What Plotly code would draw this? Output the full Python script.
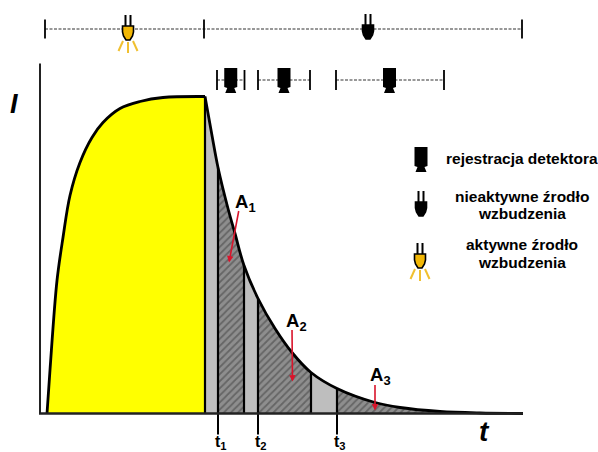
import plotly.graph_objects as go

# intensity curve: time, intensity
rise_t = [7, 10, 17, 23, 30, 40, 52, 63, 80, 100, 123, 165]
rise_i = [0, 43.5, 133, 176, 218, 251, 276, 291, 305, 312, 316, 317]
decay_t = [165, 172, 178, 188, 195, 204, 218, 235, 252, 271, 297, 335, 360, 400, 440, 483]
decay_i = [317, 278, 246, 205, 180, 148, 115, 85, 61, 41, 25, 11, 6, 2, 0.5, 0]

delay_regions = [(165, 178), (204, 218), (271, 297)]
gate_regions = [(178, 204), (218, 271), (297, 483)]
gate_edges = [165, 178, 204, 218, 271, 297]
t_labels = ["t<sub>1</sub>", "t<sub>2</sub>", "t<sub>3</sub>"]
t_label_pos = [178, 218, 297]

source_span = [5, 164, 482]
gate_windows = [(177, 204.5), (218, 270), (296, 404)]
active_source_t, inactive_source_t = 88, 328

area_names = ["A<sub>1</sub>", "A<sub>2</sub>", "A<sub>3</sub>"]
area_label_pos = [(193, 211), (244, 92), (328, 38)]
area_arrow_tail = [(199, 204), (252, 85), (335, 30)]
area_arrow_head = [(189, 151), (252.5, 32), (335, 3)]

legend_lines = ["rejestracja detektora", "nieaktywne źrodło", "wzbudzenia", "aktywne źrodło", "wzbudzenia"]
legend_y = [255.5, 217.5, 200.5, 169.5, 151.5]

FONT = "Liberation Sans"
TOP_Y, GATE_Y = 384.5, 333.5
fig = go.Figure()


def line(xs, ys, color="black", width=2.0, dash=None, shape="linear"):
    fig.add_trace(go.Scatter(x=xs, y=ys, mode="lines", hoverinfo="skip", showlegend=False,
                             line=dict(color=color, width=width, dash=dash, shape=shape)))


def at_curve(t):
    return decay_i[decay_t.index(t)]


def region(a, b):
    return [(t, i) for t, i in zip(decay_t, decay_i) if a <= t <= b]


# yellow excitation area
fig.add_trace(go.Scatter(x=rise_t + [165, 7], y=rise_i + [0, 0], mode="lines", fill="toself",
                         fillcolor="#FFFF00", line=dict(width=0), hoverinfo="skip", showlegend=False))
# grey delay areas
for a, b in delay_regions:
    p = region(a, b)
    fig.add_trace(go.Scatter(x=[q[0] for q in p] + [b, a], y=[q[1] for q in p] + [0, 0], mode="lines",
                             fill="toself", fillcolor="#BEBEBE", line=dict(width=0),
                             hoverinfo="skip", showlegend=False))
# hatched gate areas
for a, b in gate_regions:
    p = region(a, b)
    fig.add_trace(go.Scatter(x=[q[0] for q in p] + [b, a], y=[q[1] for q in p] + [0, 0], mode="lines",
                             fill="toself", line=dict(width=0), fillcolor="#808080",
                             fillpattern=dict(shape="/", fgcolor="#3C3C3C", bgcolor="#8E8E8E", size=5, solidity=0.35),
                             hoverinfo="skip", showlegend=False))
# separators
for t in gate_edges:
    line([t, t], [0, at_curve(t)], width=2.2)
for t in t_label_pos:
    line([t, t], [-21, 0], width=2.0)
# curve and axes
line(rise_t, rise_i, width=2.8, shape="spline")
line(decay_t, decay_i, width=2.8, shape="spline")
line([0, 0], [0, 350], width=2.0, color="#222222")
line([-1, 483], [0, 0], width=2.4, color="#222222")

# timelines
line([source_span[0], source_span[2]], [TOP_Y, TOP_Y], width=1.2, dash="3px,1.5px", color="#333333")
for t in source_span:
    line([t, t], [TOP_Y - 9.5, TOP_Y + 9.5], width=1.8)
for a, b in gate_windows:
    line([a, b], [GATE_Y, GATE_Y], width=1.2, dash="3px,1.5px", color="#333333")
    for t in (a, b):
        line([t, t], [GATE_Y - 10, GATE_Y + 10], width=1.8)

shapes = []


def poly(cx, cy, pts, fill, outline=None, w=0):
    d = "M " + " L ".join(f"{cx + a},{cy - b}" for a, b in pts) + " Z"
    shapes.append(dict(type="path", path=d, xref="x", yref="y", fillcolor=fill, layer="above",
                       line=dict(color=outline or fill, width=w)))


def stroke(cx, cy, a, b, color, w):
    shapes.append(dict(type="line", x0=cx + a[0], y0=cy - a[1], x1=cx + b[0], y1=cy - b[1], xref="x", yref="y",
                       layer="above", line=dict(color=color, width=w)))


def detector(cx, cy):
    poly(cx, cy, [(-6.5, -12), (6.5, -12), (6.5, 7), (3.5, 8), (5.5, 13), (-5.5, 13), (-3.5, 8), (-6.5, 7)], "black")


BULB = [(-5.5, 0), (5.5, 0), (5.5, 6), (4.5, 10), (2, 14), (-2, 14), (-4.5, 10), (-5.5, 6)]


def bulb(cx, cy, active):
    stroke(cx, cy, (-2.5, -11), (-2.5, 0), "black", 2)
    stroke(cx, cy, (2.5, -11), (2.5, 0), "black", 2)
    poly(cx, cy, BULB, "#F2B705" if active else "black", "black", 1.6)
    if active:
        for a, b in [((0, 16), (0, 27)), ((-5, 15), (-9.5, 25)), ((5, 15), (9.5, 25))]:
            stroke(cx, cy, a, b, "#F0C030", 2)


bulb(active_source_t, 387.5, True)
bulb(inactive_source_t, 388.5, False)
for a, b in gate_windows:
    detector((a + b) / 2 - (0 if b - a < 100 else 0.5), 333.5)
detector(381, 254.5)
bulb(381, 211.5, False)
bulb(380, 159.5, True)

annotations = []


def text(x, y, s, size, anchor="center", italic=False):
    annotations.append(dict(x=x, y=y, text=f"<b><i>{s}</i></b>" if italic else f"<b>{s}</b>", showarrow=False,
                            xref="x", yref="y", xanchor=anchor, yanchor="middle",
                            font=dict(family=FONT, size=size, color="black")))


text(-26, 310, "I", 27, italic=True)
text(444, -17.5, "t", 28, italic=True)
for s, t in zip(t_labels, t_label_pos):
    text(t + 3, -29, s, 16)
for s, (x, y) in zip(area_names, area_label_pos):
    text(x, y, s, 18.5, anchor="left")
for s, y in zip(legend_lines, legend_y):
    text(482, y, s, 15.5)
for (x0, y0), (x1, y1) in zip(area_arrow_tail, area_arrow_head):
    annotations.append(dict(x=x1, y=y1, ax=x0, ay=y0, xref="x", yref="y", axref="x", ayref="y", text="",
                            showarrow=True, arrowhead=2, arrowsize=0.8, arrowwidth=1.6, arrowcolor="#D9142B"))

fig.update_layout(width=598, height=452, margin=dict(l=0, r=0, t=0, b=0), paper_bgcolor="white",
                  plot_bgcolor="white", showlegend=False, shapes=shapes, annotations=annotations,
                  xaxis=dict(range=[-40, 558], visible=False, fixedrange=True),
                  yaxis=dict(range=[-38.5, 413.5], visible=False, fixedrange=True))
fig.write_html("out.html", config={"displayModeBar": False},
               post_script="document.body.style.margin='0';document.documentElement.style.overflow='hidden';")
